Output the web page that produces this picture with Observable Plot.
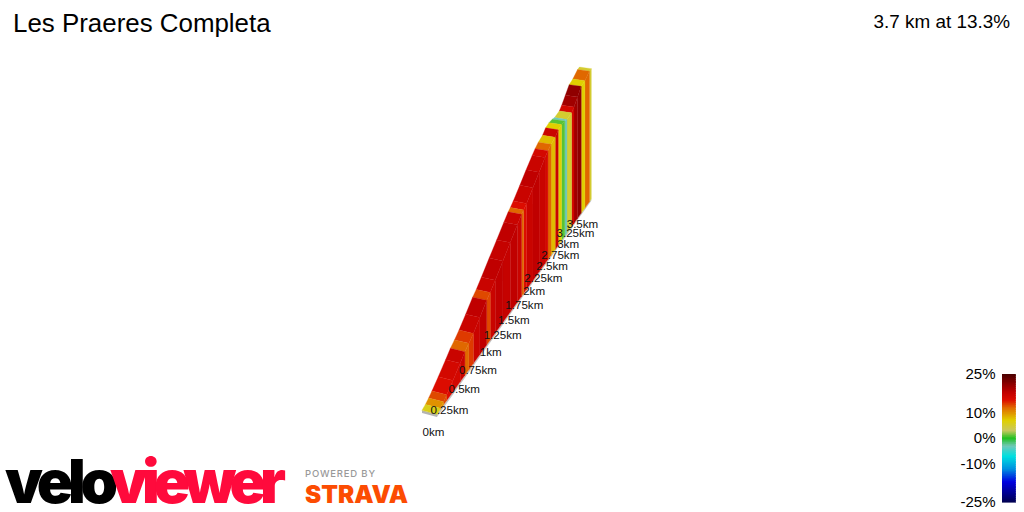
<!DOCTYPE html>
<html><head><meta charset="utf-8">
<script src="https://cdn.jsdelivr.net/npm/d3@7"></script>
<script src="https://cdn.jsdelivr.net/npm/@observablehq/plot@0.6"></script>
<style>
html,body{margin:0;padding:0;background:#fff;width:1024px;height:512px;overflow:hidden;font-family:"Liberation Sans",Arial,sans-serif}
#main,#legend,.t,#logo{position:absolute}
#main{left:0;top:0}
#legend{left:950px;top:364px}
.t{color:#000;white-space:nowrap}
svg{display:block;background:transparent}
</style></head><body>
<div id="main"></div><div id="legend"></div>
<div class="t" style="left:13px;top:9px;font-size:25.9px">Les Praeres Completa</div>
<div class="t" style="right:14px;top:11px;font-size:18.9px">3.7 km at 13.3%</div>
<svg id="logo" style="left:0;top:430px" width="420" height="82">
<text y="73" font-family="Inter" font-weight="900" font-size="60"><tspan x="5" textLength="113" fill="#000">velo</tspan></text>
<text y="73" font-family="Inter" font-weight="900" font-size="60"><tspan x="110" textLength="176" fill="#ff0a3c">viewer</tspan></text>
<text x="305" y="47" font-family="Inter" font-weight="500" font-size="9.5" textLength="70" fill="#999">POWERED BY</text>
<text x="305" y="73" font-family="Inter" font-weight="900" font-size="24" textLength="103" lengthAdjust="spacingAndGlyphs" fill="#fc4c02">STRAVA</text>
</svg>
<script>
// Route: end of each stretch (km) and its gradient (%)
const stretchEnd = [0.05,0.10,0.15,0.25,0.37,0.45,0.52,0.60,0.72,0.85,0.92,1.02,1.18,1.34,1.50,1.60,1.65,1.72,1.88,2.04,2.20,2.28,2.37,2.49,2.58,2.68,2.78,2.85,3.00,3.08,3.20,3.33,3.46,3.63,3.70];
const stretchGrade = [6,10,13,15,16,17,12,13.5,17,18,13,17,18,17.5,18,17,12,15,17,18,17,16,12,8,17,7,1,-3,5,16,20,21,7,12,5];
const kmTicks = [0,0.25,0.5,0.75,1,1.25,1.5,1.75,2,2.25,2.5,2.75,3,3.25,3.5];
const kmLabels = ["0km","0.25km","0.5km","0.75km","1km","1.25km","1.5km","1.75km","2km","2.25km","2.5km","2.75km","3km","3.25km","3.5km"];
// Gradient colour ramp
const rampStops = [-25,-17,-12,-7,-3,0,3,7,12,15,18,21,25];
const rampColors = ["#000050","#0000e0","#0090e0","#00e0e0","#70c8b8","#20c020","#c8c860","#e0d000","#e06800","#dc0c00","#c00000","#900000","#4a0000"];
const legendTicks = [25,10,0,-10,-25];

// Fixed 3-D view of the ribbon: distance recedes, so it shrinks with perspective.
const persp = 0.16;
const project = (d, h, across) => {
  const f = 1/(1+persp*d), s = d*f;
  const wx = across ? -15*Math.sqrt(f) : 0, wy = across ? -4*f*f : 0;
  return [437 + 66.4*s + wx, 417 - 93*s - 0.405*h*f + wy];
};
const plinth = 7; // metres of base block under the road

// Elevation accumulated from the stretches
const stretches = [];
let start = 0, elev = plinth;
stretchEnd.forEach((end,i) => {
  const rise = (end-start)*stretchGrade[i]*10;
  stretches.push({i, d0:start, d1:end, e0:elev, e1:elev+rise, grade:stretchGrade[i]});
  start = end; elev += rise;
});
const far = stretches.slice().reverse();
const wall = far.flatMap(g => [[g.d0,g.e0],[g.d1,g.e1]].map(([d,e]) => {
  const [x,y2] = project(d,e,false), [,y1] = project(d,plinth,false);
  return {z:g.i, grade:g.grade, x, y1, y2};
}));
const deck = far.flatMap(g => [[g.d0,g.e0],[g.d1,g.e1]].map(([d,e]) => {
  const [x1,y1] = project(d,e,false), [x2,y2] = project(d,e,true);
  return {z:g.i, grade:g.grade, x1, y1, x2, y2};
}));
const plinthBand = [0,3.7].map(d => {
  const [x,y2] = project(d,plinth,false), [,y1] = project(d,0,false);
  return {x,y1,y2};
});
const frontFace = [[0,0],[0,plinth]].map(([d,h]) => {
  const [x1,y1] = project(d,h,false), [x2,y2] = project(d,h,true);
  return {x1,y1,x2,y2};
});
const labels = kmTicks.map((d,i) => {
  const [x,y] = project(d,0,false);
  return {x, y, text:kmLabels[i]};
});
const color = {type:"linear", domain:rampStops, range:rampColors};

document.getElementById("main").append(Plot.plot({
  width:1024, height:512, margin:0,
  x:{domain:[0,1024], range:[0,1024], axis:null},
  y:{domain:[0,512], range:[0,512], axis:null},
  color,
  marks:[
    Plot.areaY(plinthBand,{x:"x",y1:"y1",y2:"y2",fill:"#c4c4c4"}),
    Plot.area(frontFace,{x1:"x1",y1:"y1",x2:"x2",y2:"y2",fill:"#b4b4b4"}),
    Plot.area(deck,{x1:"x1",y1:"y1",x2:"x2",y2:"y2",z:"z",fill:"grade",stroke:"grade",strokeWidth:0.3}),
    Plot.areaY(wall,{x:"x",y1:"y1",y2:"y2",z:"z",fill:"grade",stroke:"grade",strokeWidth:0.3}),
    Plot.text(labels,{x:"x",y:"y",text:"text",dx:-4,dy:15,fontSize:11.6,fontFamily:"Liberation Sans",fill:"#111"})
  ]
}));

const legendBands = d3.range(-25,25,0.25).map(v => ({v0:v, v1:v+0.25, v:v+0.125}));
document.getElementById("legend").append(Plot.plot({
  width:74, height:148, marginTop:10, marginBottom:10, marginLeft:52, marginRight:9,
  x:{domain:[0,1], axis:null},
  y:{domain:[-25,25], axis:null},
  color,
  marks:[
    Plot.rect(legendBands,{x1:()=>0,x2:()=>1,y1:"v0",y2:"v1",fill:"v",stroke:"v",strokeWidth:0.6,inset:0,shapeRendering:"crispEdges"}),
    Plot.axisY(legendTicks,{tickSize:0,tickPadding:7,tickFormat:d=>d+"%",fontSize:15,fontFamily:"Liberation Sans",fill:"#000"})
  ]
}));
</script>
</body></html>
